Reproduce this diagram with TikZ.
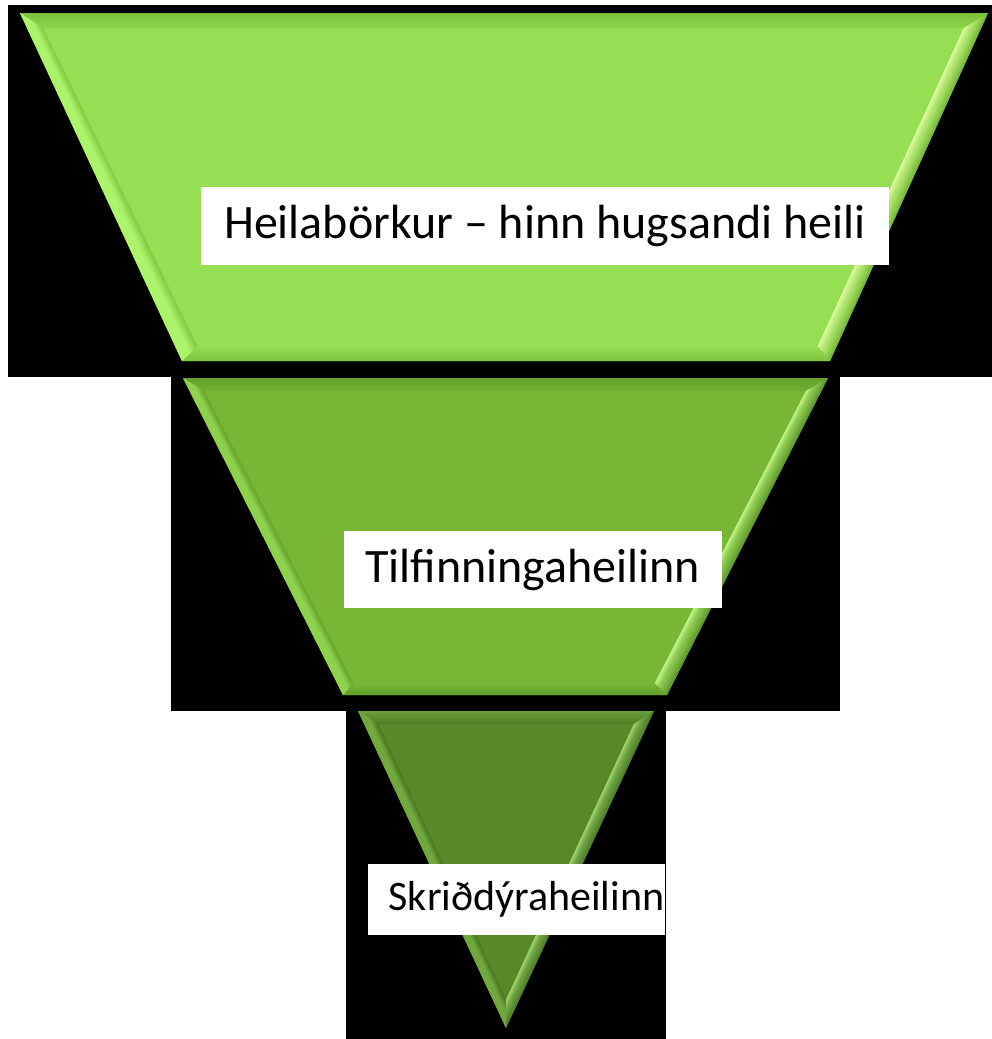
\documentclass[tikz,border=0pt]{standalone}
\usepackage{fontspec}
\setmainfont{Carlito}
\usetikzlibrary{calc}
% top trapezoid colours
\definecolor{gAmain}{RGB}{150,222,82}
\definecolor{gAtopout}{RGB}{122,192,60}
\definecolor{gAtopin}{RGB}{141,211,73}
\definecolor{gAleft}{RGB}{174,245,110}
\definecolor{gAshadow}{RGB}{132,202,66}
\definecolor{gAout}{RGB}{118,184,58}
\definecolor{gAmid}{RGB}{175,228,108}
\definecolor{gAhi}{RGB}{228,255,168}
\definecolor{gAbotout}{RGB}{128,196,64}
% middle trapezoid colours
\definecolor{gBmain}{RGB}{119,183,53}
\definecolor{gBtopout}{RGB}{100,160,42}
\definecolor{gBtopin}{RGB}{112,174,48}
\definecolor{gBleft}{RGB}{145,212,80}
\definecolor{gBshadow}{RGB}{104,164,44}
\definecolor{gBout}{RGB}{96,152,46}
\definecolor{gBmid}{RGB}{140,200,80}
\definecolor{gBhi}{RGB}{198,250,140}
\definecolor{gBbotout}{RGB}{100,160,44}
% bottom triangle colours
\definecolor{gCmain}{RGB}{86,137,41}
\definecolor{gCtopout}{RGB}{108,160,62}
\definecolor{gCtopin}{RGB}{80,128,38}
\definecolor{gCleft}{RGB}{115,172,64}
\definecolor{gCshadow}{RGB}{74,120,34}
\definecolor{gCout}{RGB}{80,125,42}
\definecolor{gCmid}{RGB}{112,165,70}
\definecolor{gChi}{RGB}{168,222,118}
\tikzset{
  labelbox/.style={fill=white, draw=none, inner sep=0pt, text=black, align=center},
  blackpanel/.style={fill=black}
}
% gradient strips between an outer edge (#1--#2) and an inner edge (#3--#4),
% from fraction #5 to #6 of the way inwards, colour #7 to colour #8
\newcommand\bevelgrad[8]{%
  \foreach \k in {0,...,11}{%
    \pgfmathsetmacro\ta{#5+(#6-#5)*\k/12}%
    \pgfmathsetmacro\tb{#5+(#6-#5)*(\k+1.25)/12}%
    \pgfmathtruncatemacro\pc{\k*100/11}%
    \fill[#8!\pc!#7] ($(#1)!\ta!(#3)$) -- ($(#2)!\ta!(#4)$) -- ($(#2)!\tb!(#4)$) -- ($(#1)!\tb!(#3)$) -- cycle;
  }%
}
\begin{document}
\begin{tikzpicture}[x=1pt,y=-1pt]
\useasboundingbox (0,0) rectangle (992,1039);
\fill[white] (0,0) rectangle (992,1039);
% black panels
\fill[blackpanel] (8,5) rectangle (992,377);
\fill[blackpanel] (171,377) rectangle (840,711);
\fill[blackpanel] (346,711) rectangle (666,1039);

% ---------- top trapezoid ----------
\coordinate (A1) at (20,13);   \coordinate (B1) at (988,13);
\coordinate (C1) at (830,361); \coordinate (D1) at (182,361);
\coordinate (a1) at (43,28);   \coordinate (b1) at (964,28);
\coordinate (c1) at (818,346); \coordinate (d1) at (197,346);
\fill[gAmain] (A1) -- (B1) -- (C1) -- (D1) -- cycle;
\bevelgrad{A1}{B1}{a1}{b1}{0}{1}{gAtopout}{gAtopin}
\bevelgrad{D1}{C1}{d1}{c1}{0}{1}{gAbotout}{gAmain}
\bevelgrad{A1}{D1}{a1}{d1}{0}{0.5}{gAleft}{gAleft}
\bevelgrad{A1}{D1}{a1}{d1}{0.5}{1}{gAleft}{gAshadow}
\bevelgrad{B1}{C1}{b1}{c1}{0}{0.6}{gAout}{gAmid}
\bevelgrad{B1}{C1}{b1}{c1}{0.6}{1}{gAmid}{gAhi}

% ---------- middle trapezoid ----------
\coordinate (A2) at (183,378); \coordinate (B2) at (828,378);
\coordinate (C2) at (667,695); \coordinate (D2) at (343,695);
\coordinate (a2) at (204,391); \coordinate (b2) at (806,391);
\coordinate (c2) at (655,683); \coordinate (d2) at (353,683);
\fill[gBmain] (A2) -- (B2) -- (C2) -- (D2) -- cycle;
\bevelgrad{A2}{B2}{a2}{b2}{0}{1}{gBtopout}{gBtopin}
\bevelgrad{D2}{C2}{d2}{c2}{0}{1}{gBbotout}{gBmain}
\bevelgrad{A2}{D2}{a2}{d2}{0}{0.5}{gBleft}{gBleft}
\bevelgrad{A2}{D2}{a2}{d2}{0.5}{1}{gBleft}{gBshadow}
\bevelgrad{B2}{C2}{b2}{c2}{0}{0.6}{gBout}{gBmid}
\bevelgrad{B2}{C2}{b2}{c2}{0.6}{1}{gBmid}{gBhi}

% ---------- bottom triangle ----------
\coordinate (A3) at (358,711); \coordinate (B3) at (654,711);
\coordinate (C3) at (506,1028);
\coordinate (a3) at (378,724); \coordinate (b3) at (634,724);
\coordinate (c3) at (506,1000);
\fill[gCmain] (A3) -- (B3) -- (C3) -- cycle;
\bevelgrad{A3}{B3}{a3}{b3}{0}{1}{gCtopout}{gCtopin}
\bevelgrad{A3}{C3}{a3}{c3}{0}{0.5}{gCleft}{gCleft}
\bevelgrad{A3}{C3}{a3}{c3}{0.5}{1}{gCleft}{gCshadow}
\bevelgrad{B3}{C3}{b3}{c3}{0}{0.6}{gCout}{gCmid}
\bevelgrad{B3}{C3}{b3}{c3}{0.6}{1}{gCmid}{gChi}

% ---------- labels ----------
\node[labelbox, minimum width=688pt, minimum height=78pt,
      font=\fontsize{48}{57}\selectfont] (cortex) at (545,225.5)
      {Heilabörkur – hinn hugsandi heili};
\node[labelbox, minimum width=378pt, minimum height=77pt,
      font=\fontsize{48}{57}\selectfont] (limbic) at (533,569.5)
      {Tilfinningaheilinn};
\node[labelbox, minimum width=297pt, minimum height=71pt,
      font=\fontsize{42}{50}\selectfont] (reptile) at (516.5,899.5)
      {\hspace*{20pt}Skriðdýraheilinn};
\end{tikzpicture}
\end{document}
